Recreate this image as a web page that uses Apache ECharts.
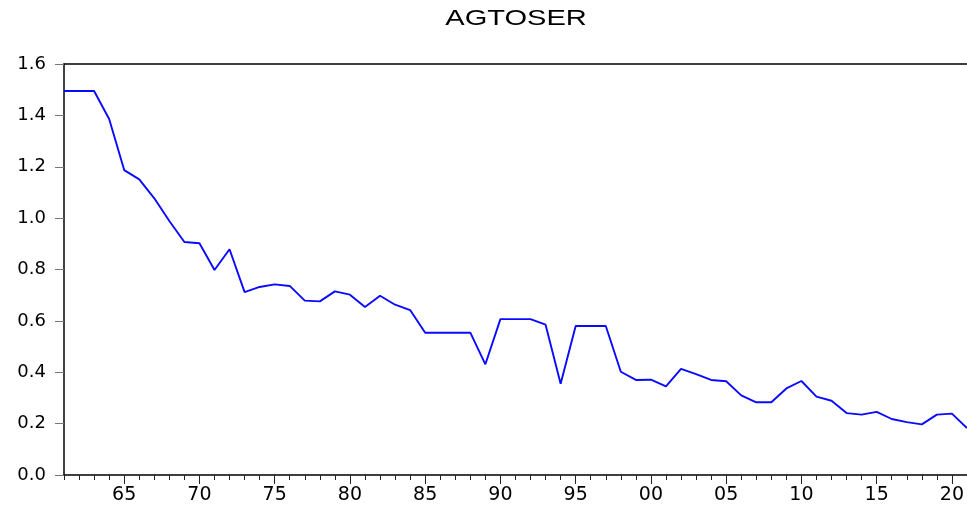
<!DOCTYPE html>
<html>
<head>
<meta charset="utf-8">
<script src="https://cdn.jsdelivr.net/npm/echarts@6/dist/echarts.min.js"></script>
<style>
  html, body { margin: 0; padding: 0; background: #fff; }
  #chart { width: 967px; height: 508px; }
</style>
</head>
<body>
<div id="chart"></div>
<script>
const firstYear = 1961
const lastYear = 2021

// AGTOSER, one value per year 1961..2021
const agtoser = [
  1.495, 1.495, 1.495, 1.386, 1.187, 1.151, 1.077, 0.989, 0.907, 0.902,
  0.798, 0.879, 0.712, 0.732, 0.742, 0.736, 0.679, 0.676, 0.715, 0.702,
  0.654, 0.698, 0.663, 0.642, 0.554, 0.554, 0.554, 0.554, 0.431, 0.607,
  0.607, 0.607, 0.585, 0.355, 0.580, 0.580, 0.580, 0.402, 0.370, 0.371,
  0.345, 0.413, 0.393, 0.370, 0.365, 0.310, 0.283, 0.283, 0.337, 0.366,
  0.305, 0.289, 0.241, 0.235, 0.246, 0.218, 0.206, 0.197, 0.235, 0.239,
  0.183
]

const years = []
for (let y = firstYear; y <= lastYear; y++) years.push(String(y))

const yTicks = { min: 0, max: 1.6, step: 0.2 }

const isMajor = (year) => Number(year) % 5 === 0

const chart = echarts.init(document.getElementById('chart'))

const baseX = {
  type: 'category',
  data: years,
  boundaryGap: false,
  gridIndex: 0
}

const option = {
  animation: false,
  backgroundColor: '#fff',
  graphic: [{
    type: 'text',
    x: 516,
    y: 19,
    scaleX: 1.32,
    style: {
      text: 'AGTOSER',
      fontFamily: 'Liberation Sans, Arial, sans-serif',
      fontSize: 22,
      fill: '#000',
      align: 'center',
      verticalAlign: 'middle'
    }
  }],
  grid: {
    left: 64,
    right: 0,
    top: 64,
    bottom: 33,
    containLabel: false
  },
  xAxis: [
    {
      ...baseX,
      position: 'bottom',
      axisLine: { show: true, lineStyle: { color: '#000', width: 1.5 } },
      axisTick: {
        show: true,
        inside: false,
        length: 5,
        interval: 0,
        lineStyle: { color: '#222', width: 1 }
      },
      axisLabel: {
        show: true,
        interval: (i, v) => isMajor(v),
        formatter: (v) => v.slice(2),
        margin: 11,
        color: '#000',
        fontSize: 19,
        fontFamily: 'DejaVu Sans, sans-serif'
      },
      splitLine: { show: false }
    },
    {
      ...baseX,
      position: 'bottom',
      axisLine: { show: false },
      axisTick: {
        show: true,
        inside: false,
        length: 9,
        interval: (i, v) => isMajor(v),
        lineStyle: { color: '#222', width: 1 }
      },
      axisLabel: { show: false },
      splitLine: { show: false }
    },
    {
      ...baseX,
      position: 'top',
      axisLine: { show: true, lineStyle: { color: '#000', width: 1.5 } },
      axisTick: { show: false },
      axisLabel: { show: false },
      splitLine: { show: false }
    }
  ],
  yAxis: {
    type: 'value',
    min: yTicks.min,
    max: yTicks.max,
    interval: yTicks.step,
    axisLine: { show: true, lineStyle: { color: '#000', width: 1.5 } },
    axisTick: {
      show: true,
      inside: false,
      length: 9,
      lineStyle: { color: '#777', width: 1 }
    },
    axisLabel: {
      formatter: (v) => v.toFixed(1),
      margin: 18,
      color: '#000',
      fontSize: 18,
      fontFamily: 'DejaVu Sans, sans-serif',
      padding: [0, 0, 6, 0]
    },
    splitLine: { show: false }
  },
  series: [{
    name: 'AGTOSER',
    type: 'line',
    xAxisIndex: 0,
    data: agtoser,
    symbol: 'none',
    smooth: false,
    lineStyle: { color: '#0a0aff', width: 1.9 }
  }]
}

chart.setOption(option)
</script>
</body>
</html>
